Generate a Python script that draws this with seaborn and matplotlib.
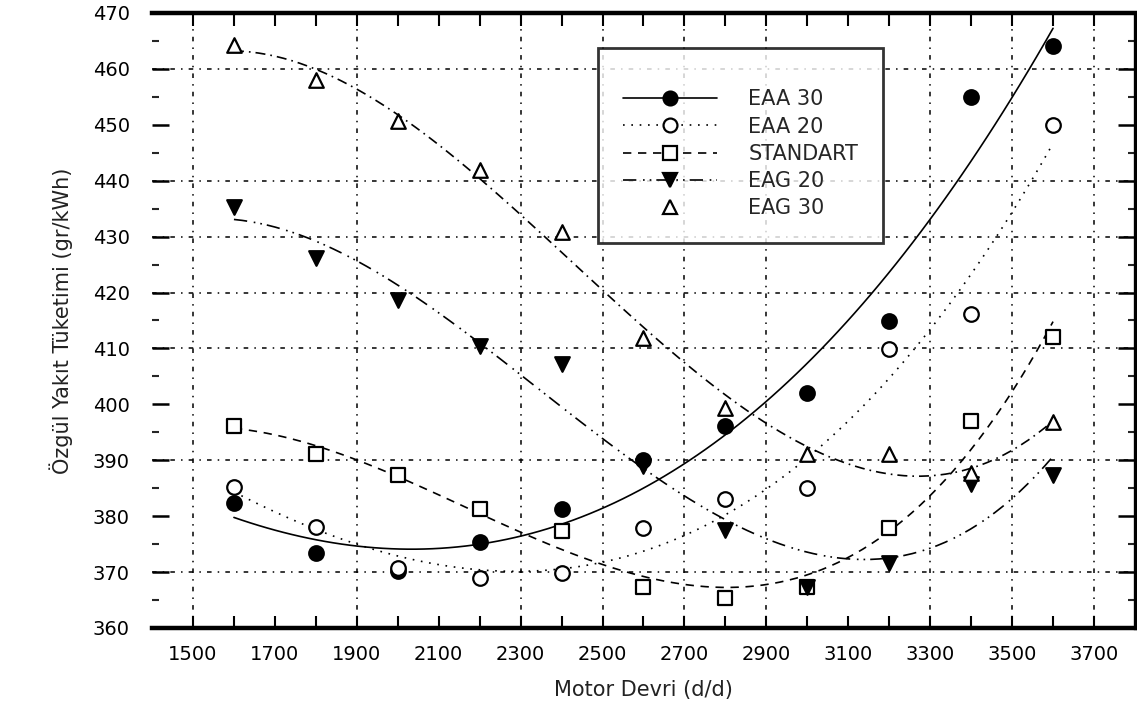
import numpy as np
import pandas as pd
import matplotlib
matplotlib.use("Agg")
import matplotlib.pyplot as plt
from matplotlib.lines import Line2D
import seaborn as sns

# ---- data ----
rpm = [1600, 1800, 2000, 2200, 2400, 2600, 2800, 3000, 3200, 3400, 3600]
eaa30 = [382.3, 373.4, 370.2, 375.4, 381.2, 390.0, 396.1, 402.0, 414.9, 455.0, 464.1]
eaa20 = [385.2, 378.0, 370.8, 369.0, 369.8, 377.9, 383.1, 385.0, 409.9, 416.2, 450.0]
standart = [396.1, 391.1, 387.3, 381.3, 377.3, 367.3, 365.3, 367.3, 377.9, 397.0, 412.0]
eag20 = [435.3, 426.2, 418.7, 410.5, 407.3, 389.0, 377.5, 367.3, 371.6, 385.7, 387.4]
eag30 = [464.3, 458.0, 450.7, 441.9, 430.8, 411.9, 399.3, 391.1, 391.1, 387.7, 396.8]

series_names = ["EAA 30", "EAA 20", "STANDART", "EAG 20", "EAG 30"]
series_vals = [eaa30, eaa20, standart, eag20, eag30]

x_ticklabels = [1500, 1700, 1900, 2100, 2300, 2500, 2700, 2900, 3100, 3300, 3500, 3700]
y_ticklabels = [360, 370, 380, 390, 400, 410, 420, 430, 440, 450, 460, 470]

# styles
markers = ["o", "o", "s", "v", "^"]
filled = [True, False, False, True, False]
linestyles = ["-", (0, (1, 4)), (0, (5, 4)), (0, (8, 4, 1, 3, 1, 3)), (0, (6, 3, 1, 3))]
fit_order = 3

sns.set_theme(style="white")
plt.rcParams["font.family"] = ["DejaVu Sans"]

fig = plt.figure(figsize=(11.37, 7.21), dpi=100)
ax = fig.add_axes([0.1337, 0.129, 0.8645, 0.853])

df = pd.DataFrame({"rpm": rpm})
for name, vals in zip(series_names, series_vals):
    df[name] = vals

# gridlines (as seen in the reference)
grid_x = [1500, 1900, 2300, 2500, 2700, 2900, 3300, 3500, 3700]
grid_y = [370, 390, 410, 420, 430, 440, 460]
for gx in grid_x:
    ax.axvline(gx, color="black", lw=1.1, ls=(0, (3, 4, 1, 4)), zorder=0)
for gy in grid_y:
    ax.axhline(gy, color="black", lw=1.1, ls=(0, (3, 4, 1, 4)), zorder=0)

for name, mk, fl, ls in zip(series_names, markers, filled, linestyles):
    sns.regplot(data=df, x="rpm", y=name, order=fit_order, ci=None, scatter=False,
                ax=ax, color="black", line_kws=dict(lw=1.2, ls=ls))
    sns.scatterplot(data=df, x="rpm", y=name, ax=ax, marker=mk, s=110,
                    color="black" if fl else "white",
                    edgecolor="black", linewidth=1.6, zorder=5)

ax.set_xlim(1400, 3800)
ax.set_ylim(360, 470)
ax.set_xticks(x_ticklabels)
ax.set_xticklabels([str(v) for v in x_ticklabels])
ax.set_xticks(np.arange(1600, 3700, 200), minor=True)
ax.set_yticks(y_ticklabels)
ax.set_yticklabels([str(v) for v in y_ticklabels])
ax.set_yticks(np.arange(365, 470, 10), minor=True)

ax.tick_params(axis="x", which="both", direction="in", length=9, width=1.5,
               top=True, bottom=True, labelsize=14, pad=12, colors="black")
ax.tick_params(axis="y", which="major", direction="in", length=12, width=1.8,
               left=True, right=True, labelsize=14, pad=16, colors="black")
ax.tick_params(axis="y", which="minor", direction="in", length=5, width=1.5,
               left=True, right=True)

for side in ["top", "bottom"]:
    ax.spines[side].set_linewidth(3.2)
    ax.spines[side].set_color("black")
ax.spines["right"].set_linewidth(2.4)
ax.spines["right"].set_color("black")
ax.spines["left"].set_visible(False)

ax.set_xlabel("Motor Devri (d/d)", fontsize=15, labelpad=12, color="#222222")
ax.set_ylabel("Özgül Yakıt Tüketimi (gr/kWh)", fontsize=15, labelpad=14, color="#222222")

handles = []
for name, mk, fl, ls in zip(series_names, markers, filled, linestyles):
    handles.append(Line2D([0], [0], color="black", lw=1.2,
                          ls=("none" if name == "EAG 30" else ls),
                          marker=mk, markersize=10,
                          markerfacecolor="black" if fl else "white",
                          markeredgecolor="black", markeredgewidth=1.6))
leg = ax.legend(handles=handles, labels=series_names, loc="upper left",
                bbox_to_anchor=(0.454, 0.943), fontsize=15, frameon=True,
                fancybox=False, edgecolor="black", handlelength=4.5,
                handletextpad=1.5, borderpad=1.2, labelspacing=0.35,
                borderaxespad=0, title=" ", title_fontsize=6)
leg.get_frame().set_linewidth(2.0)

fig.savefig("out.png", dpi=100)
